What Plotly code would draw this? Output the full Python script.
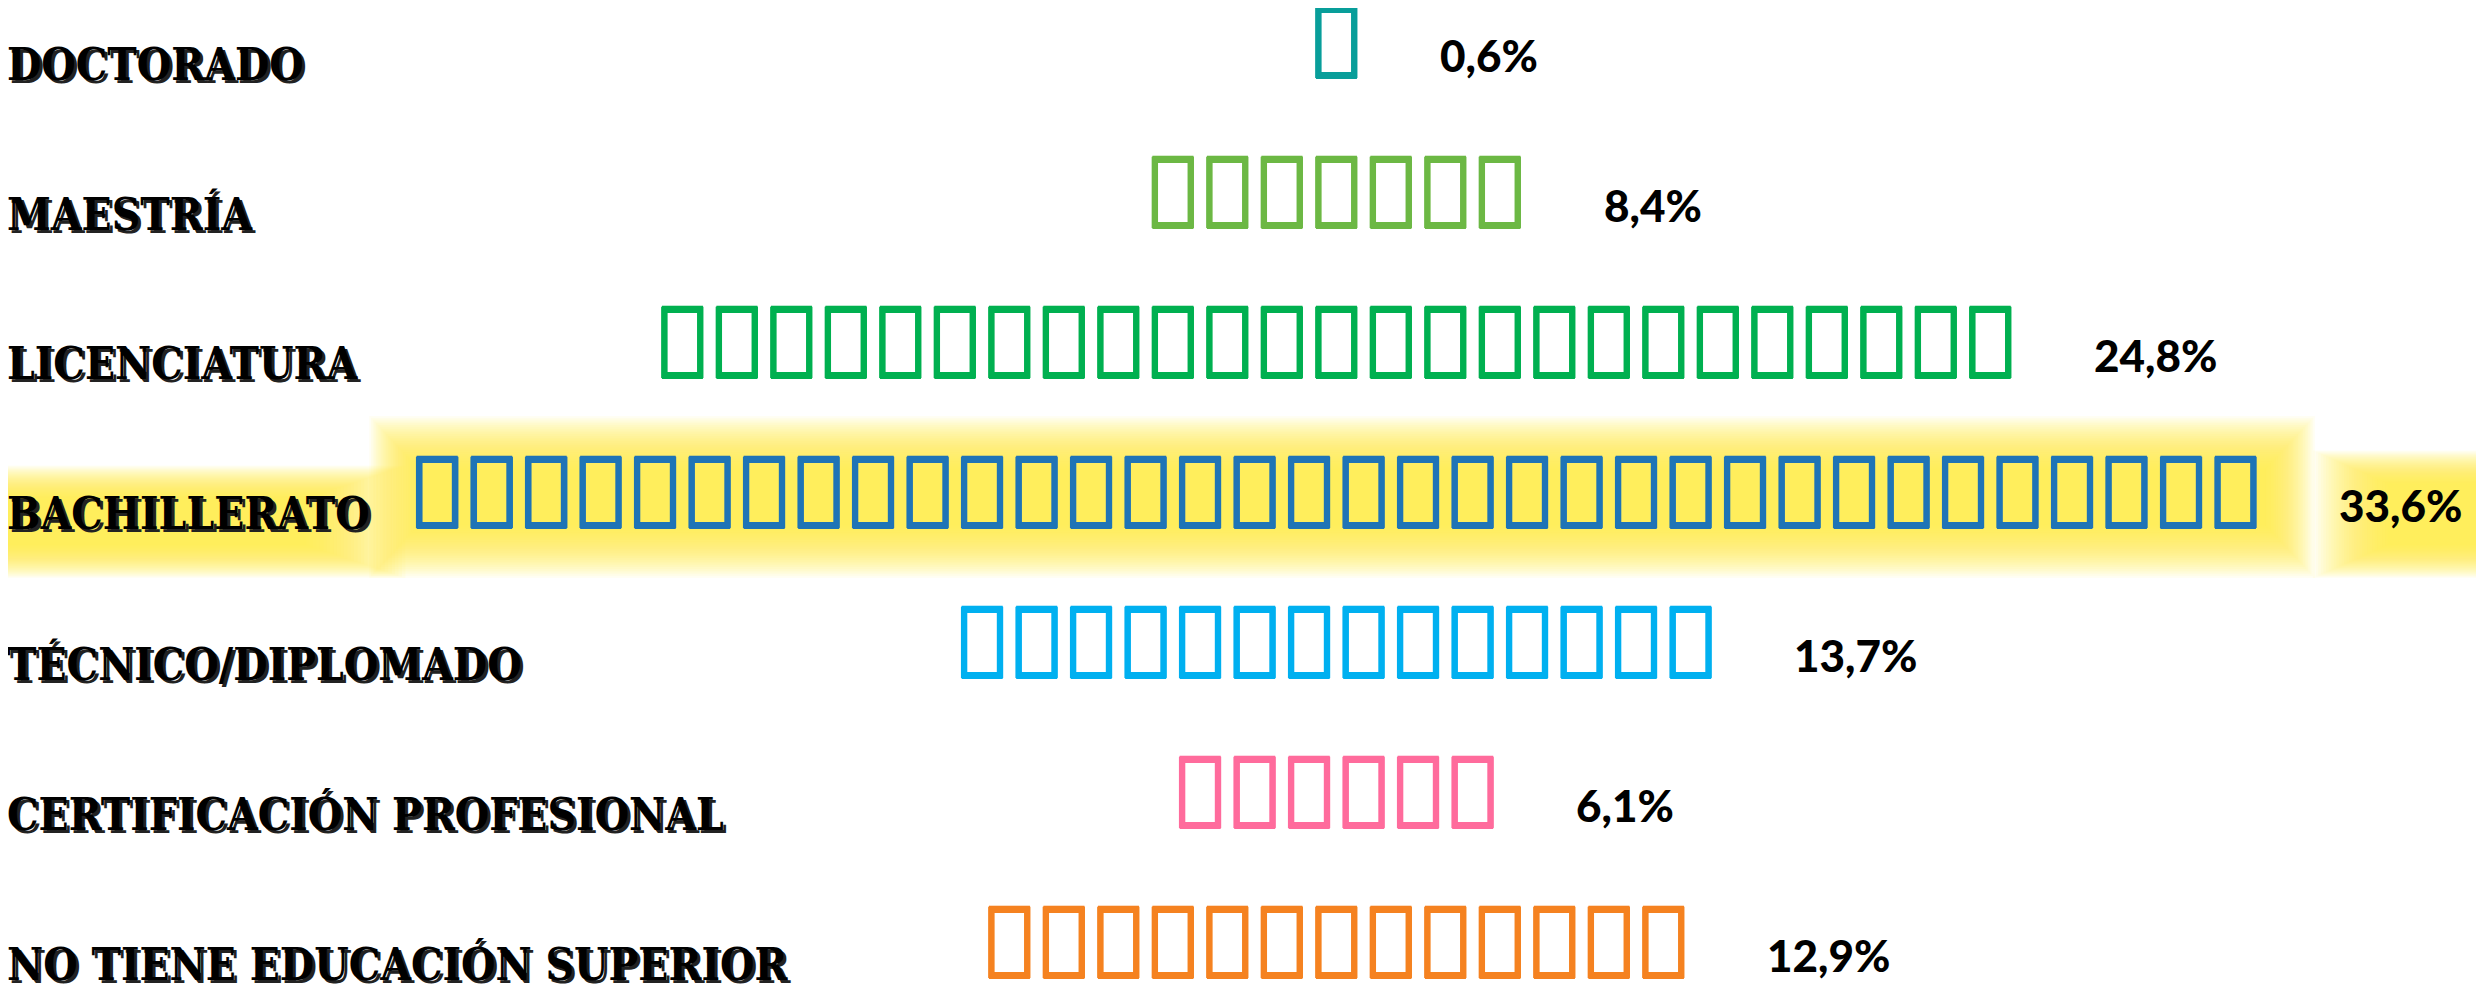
import plotly.graph_objects as go

categories = ["Doctorado", "Maestría", "Licenciatura", "Bachillerato",
              "Técnico/Diplomado", "Certificación profesional",
              "No tiene educación superior"]
icon_counts = [1, 7, 25, 34, 14, 6, 13]
value_labels = ["0,6%", "8,4%", "24,8%", "33,6%", "13,7%", "6,1%", "12,9%"]
icon_colors = ["#089e9a", "#6cb844", "#00b050", "#1f74b6", "#00b0f0", "#ff6b9c", "#f58220"]
highlight = "Bachillerato"
ICON = "\uf007"

fig = go.Figure()

glow_color = "#fff03c"
shapes = []
hk = categories.index(highlight)
hn = icon_counts[hk]
L = 30
for j in range(L):
    f = j / (L - 1)
    op = 0.06
    shapes.append(dict(type="rect", xref="x", yref="y", layer="below",
                       x0=-hn / 2 - 0.75 + 0.9 * f, x1=hn / 2 + 0.95 - 0.9 * f,
                       y0=hk - 0.58 + 0.35 * f, y1=hk + 0.5 - 0.35 * f,
                       fillcolor=glow_color, opacity=op, line=dict(width=0)))
    shapes.append(dict(type="rect", xref="paper", yref="y", layer="below",
                       x0=-0.01, x1=0.16 - 0.04 * f,
                       y0=hk - 0.25 + 0.22 * f, y1=hk + 0.5 - 0.22 * f,
                       fillcolor=glow_color, opacity=op, line=dict(width=0)))
    shapes.append(dict(type="rect", xref="paper", yref="y", layer="below",
                       x0=0.928 + 0.03 * f, x1=1.01,
                       y0=hk - 0.35 + 0.22 * f, y1=hk + 0.5 - 0.22 * f,
                       fillcolor=glow_color, opacity=op, line=dict(width=0)))

annotations = []
for k, (cat, n, val, col) in enumerate(zip(categories, icon_counts, value_labels, icon_colors)):
    xs = [i - (n - 1) / 2 for i in range(n)]
    sh = f"0.7px 0 0 {col}, -0.7px 0 0 {col}, 0 0.7px 0 {col}, 0 -0.7px 0 {col}"
    fig.add_trace(go.Scatter(
        x=xs, y=[k] * n, mode="text", text=[ICON] * n,
        textposition="middle center", cliponaxis=False,
        textfont=dict(family="Noto Sans", size=100, color=col, shadow=sh),
        hoverinfo="skip", showlegend=False))
    annotations.append(dict(
        x=0, xref="paper", y=k, yref="y", xanchor="left", yanchor="middle",
        xshift=-3, yshift=-11, text=cat, showarrow=False,
        font=dict(family="DejaVu Serif Condensed", size=44, color="black",
                  weight="bold", textcase="upper", shadow="3px 3px 0px #222")))
    annotations.append(dict(
        x=(n - 1) / 2 + 1.86, xref="x", y=k, yref="y", xanchor="left", yanchor="middle",
        yshift=-2, text=val, showarrow=False,
        font=dict(family="Lato", size=44, color="black", weight=900)))

fig.update_layout(
    width=2484, height=988,
    margin=dict(l=0, r=0, t=0, b=0),
    paper_bgcolor="white", plot_bgcolor="white",
    xaxis=dict(range=[-24.38, 21.20], visible=False, fixedrange=True),
    yaxis=dict(range=[6.287, -0.3], visible=False, fixedrange=True),
    shapes=shapes, annotations=annotations, showlegend=False,
)

fig.write_html("out.html")
